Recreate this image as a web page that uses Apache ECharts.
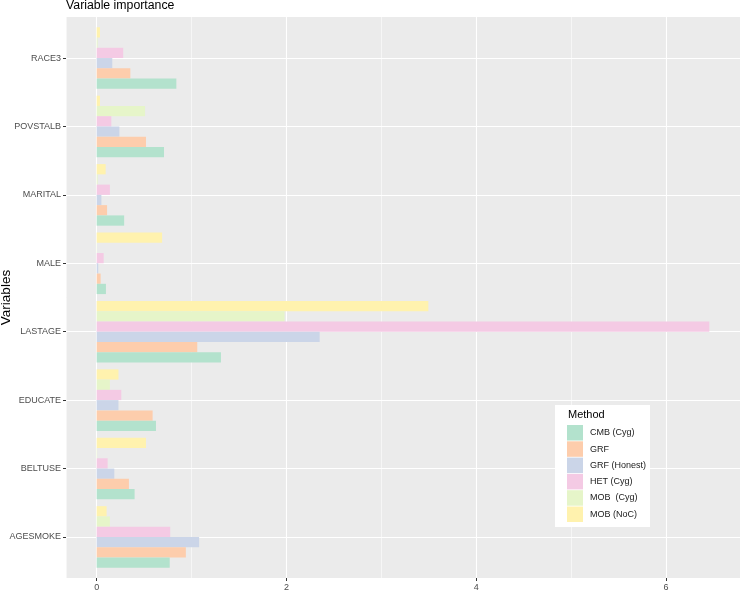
<!DOCTYPE html>
<html><head><meta charset="utf-8">
<script src="https://cdn.jsdelivr.net/npm/echarts@6/dist/echarts.min.js"></script>
<style>html,body{margin:0;padding:0;background:#fff}#c{width:740px;height:590px}</style>
</head><body><div id="c"></div>
<script>
// categories, bottom to top
const categories = ['AGESMOKE','BELTUSE','EDUCATE','LASTAGE','MALE','MARITAL','POVSTALB','RACE3'];
const methods = ['CMB (Cyg)','GRF','GRF (Honest)','HET (Cyg)','MOB  (Cyg)','MOB (NoC)'];
const cmbCyg    = [0.77, 0.40, 0.625, 1.31, 0.098, 0.29, 0.71, 0.84];
const grf       = [0.94, 0.34, 0.59, 1.06, 0.042, 0.11, 0.52, 0.355];
const grfHonest = [1.08, 0.186, 0.23, 2.35, 0.017, 0.05, 0.24, 0.165];
const hetCyg    = [0.775, 0.116, 0.26, 6.456, 0.074, 0.14, 0.155, 0.28];
const mobCyg    = [0.14, 0.005, 0.14, 1.98, 0.003, 0.01, 0.51, 0.01];
const mobNoC    = [0.105, 0.52, 0.23, 3.495, 0.69, 0.095, 0.035, 0.035];
const xTickLabels = [0, 2, 4, 6];
const colors = ['#b3e2cd','#fdcdac','#cbd5e8','#f4cae4','#e6f5c9','#fff2ae'];

const seriesValues = [cmbCyg, grf, grfHonest, hetCyg, mobCyg, mobNoC];
const FONT = 'Liberation Sans';
const H = 590;
const P = {left: 66, right: 0, top: 17, bottom: 12};
const xMin = -0.3228, xMax = 6.779;
const yExp = 0.6;
const panelH = H - P.top - P.bottom;
const unit = panelH / (categories.length - 1 + 2 * yExp);
const inset = (yExp - 0.5) * unit;
const catIdx = categories.map((c, i) => i);

const chart = echarts.init(document.getElementById('c'), null, {renderer: 'canvas'});
const seriesList = methods.map((m, i) => ({
  name: m, type: 'bar', xAxisIndex: 2, yAxisIndex: 1,
  barCategoryGap: '10%', barGap: '0%',
  itemStyle: {color: colors[i]},
  data: seriesValues[i]
})).reverse();

chart.setOption({
  animation: false,
  textStyle: {fontFamily: FONT},
  title: [
    {text: 'Variable importance', left: 66, top: 0, padding: 0,
     textStyle: {fontSize: 12.3, fontWeight: 'normal', color: '#000', fontFamily: FONT}},
    {text: 'Method', left: 568, top: 409, padding: 0, z: 20,
     textStyle: {fontSize: 11, fontWeight: 'normal', color: '#000', fontFamily: FONT}}
  ],
  legend: {
    orient: 'vertical', left: 555, top: 405,
    itemWidth: 16, itemHeight: 15.5, itemGap: 0.8,
    padding: [20, 4, 5, 12], backgroundColor: '#fff',
    icon: 'rect', data: methods,
    textStyle: {fontSize: 9, color: '#1a1a1a', fontFamily: FONT, padding: [0, 0, 0, 2]}
  },
  grid: [
    {left: P.left, right: P.right, top: P.top, bottom: P.bottom, show: true,
     backgroundColor: '#ebebeb', borderWidth: 0, containLabel: false, outerBoundsMode: 'none'},
    {left: P.left, right: P.right, top: P.top + inset, bottom: P.bottom + inset, show: false,
     containLabel: false, outerBoundsMode: 'none'}
  ],
  xAxis: [
    {gridIndex: 0, type: 'value', min: xMin, max: xMax, splitNumber: 4, minInterval: 2, maxInterval: 2,
     position: 'bottom',
     axisLine: {show: false, onZero: false},
     axisTick: {show: true, customValues: xTickLabels, length: 3, lineStyle: {color: '#333'}},
     axisLabel: {customValues: xTickLabels, color: '#4d4d4d', fontSize: 9, margin: 5, fontFamily: FONT},
     splitLine: {show: true, lineStyle: {color: '#fff', width: 1.1}}},
    {gridIndex: 0, type: 'value', min: xMin, max: xMax, splitNumber: 7, minInterval: 1, maxInterval: 1,
     axisLine: {show: false, onZero: false}, axisTick: {show: false}, axisLabel: {show: false},
     splitLine: {show: true, lineStyle: {color: '#fff', width: 0.55}}},
    {gridIndex: 1, type: 'value', min: xMin, max: xMax, show: false, axisLine: {onZero: false}}
  ],
  yAxis: [
    {gridIndex: 0, type: 'value', min: -yExp, max: categories.length - 1 + yExp,
     splitNumber: 8, minInterval: 1, maxInterval: 1, position: 'left',
     name: 'Variables', nameLocation: 'middle', nameRotate: 90, nameGap: 53,
     nameMoveOverlap: false,
     nameTextStyle: {fontSize: 13.5, color: '#000', fontFamily: FONT},
     axisLine: {show: false, onZero: false},
     axisTick: {show: true, customValues: catIdx, length: 3, lineStyle: {color: '#333'}},
     axisLabel: {customValues: catIdx, color: '#4d4d4d', fontSize: 9, margin: 5, fontFamily: FONT,
                 formatter: v => categories[Math.round(v)]},
     splitLine: {show: true, lineStyle: {color: '#fff', width: 1.1}}},
    {gridIndex: 1, type: 'category', data: categories, show: false, axisLine: {onZero: false}}
  ],
  series: seriesList
});
</script></body></html>
